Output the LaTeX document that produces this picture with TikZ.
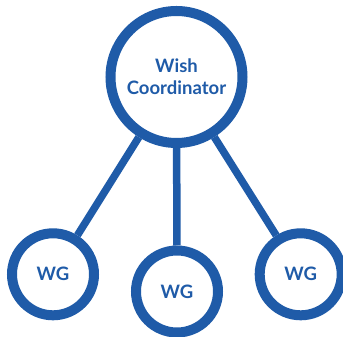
\documentclass[tikz,border=0pt]{standalone}
\usepackage{fontspec}
\setmainfont{Lato}
\definecolor{wblue}{RGB}{31,91,168}
\begin{document}
\begin{tikzpicture}[x=1pt,y=1pt,
  ring/.style={circle,draw=wblue,fill=white,line width=10pt,inner sep=0pt,text=wblue,font=\bfseries\fontsize{18.5}{21.6}\selectfont,align=center},
  bigring/.style={ring,minimum size=132pt},
  wgring/.style={ring,minimum size=82pt},
  link/.style={draw=wblue,line width=7.5pt}]
\useasboundingbox (0,0) rectangle (343,337);
\clip (0,0) rectangle (343,337);
\node[bigring] (coord) at (176.5,260) {Wish\\Coordinator};
\node[wgring] (wg1) at (53,62.7) {WG};
\node[wgring] (wg2) at (177,45.5) {WG};
\node[wgring] (wg3) at (300.7,62.7) {WG};
\draw[link] (coord) -- (wg1);
\draw[link] (coord) -- (wg2);
\draw[link] (coord) -- (wg3);
\end{tikzpicture}
\end{document}
